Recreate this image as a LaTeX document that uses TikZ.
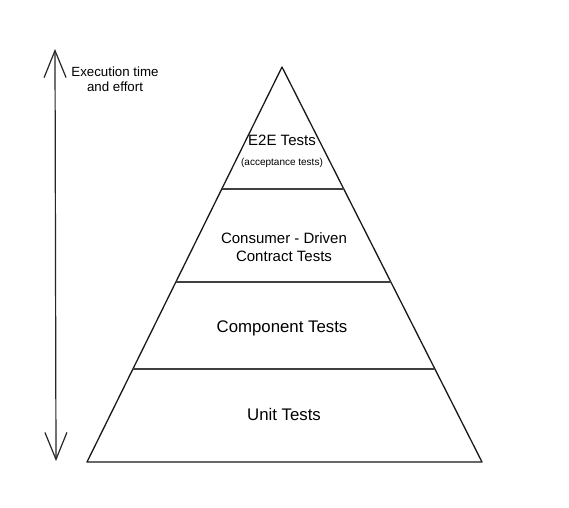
\documentclass[tikz,border=0pt]{standalone}
\usepackage{fontspec}
\setmainfont{Liberation Sans}
\usetikzlibrary{arrows.meta,calc}
\begin{document}
\begin{tikzpicture}[x=1pt,y=-1pt,
  edge/.style={line width=1.3pt,black!90,line join=round},
  divider/.style={line width=1.6pt,black!75},
  lbl/.style={inner sep=0pt,align=center,text=black},
  bigl/.style={lbl,font=\fontsize{16.8}{19}\selectfont},
  midl/.style={lbl,font=\fontsize{15}{17.5}\selectfont},
  smalll/.style={lbl,font=\fontsize{10}{12}\selectfont},
  axisl/.style={lbl,font=\fontsize{13.3}{14.5}\selectfont}]
\fill[white] (0,0) rectangle (569,507);
\useasboundingbox (0,0) rectangle (569,507);
% pyramid
\coordinate (apex) at (282,67);
\coordinate (bl) at (87,462);
\coordinate (br) at (482,462);
\draw[edge] (bl) -- (apex) -- (br) -- cycle;
\coordinate (l1) at ($(bl)!0.2354!(apex)$);
\coordinate (r1) at ($(br)!0.2354!(apex)$);
\coordinate (l2) at ($(bl)!0.4557!(apex)$);
\coordinate (r2) at ($(br)!0.4557!(apex)$);
\coordinate (l3) at ($(bl)!0.691!(apex)$);
\coordinate (r3) at ($(br)!0.691!(apex)$);
\draw[divider] (l1) -- (r1);
\draw[divider] (l2) -- (r2);
\draw[divider] (l3) -- (r3);
% labels
\node[midl] (e2e) at (282,140) {E2E Tests};
\node[smalll] (acc) at (282,163) {(acceptance tests)};
\node[midl] (cdc) at (284,247) {Consumer - Driven\\Contract Tests};
\node[bigl] (comp) at (282,328) {Component Tests};
\node[bigl] (unit) at (284,414) {Unit Tests};
% axis arrow
\coordinate (atop) at (55,49);
\coordinate (abot) at (56,461);
\draw[line width=1.2pt,black!85,{Straight Barb[length=27pt,width=22pt]}-{Straight Barb[length=27pt,width=22pt]}] (atop) -- (abot);
\node[axisl] (axis) at (115,79) {Execution time\\and effort};
\end{tikzpicture}
\end{document}
